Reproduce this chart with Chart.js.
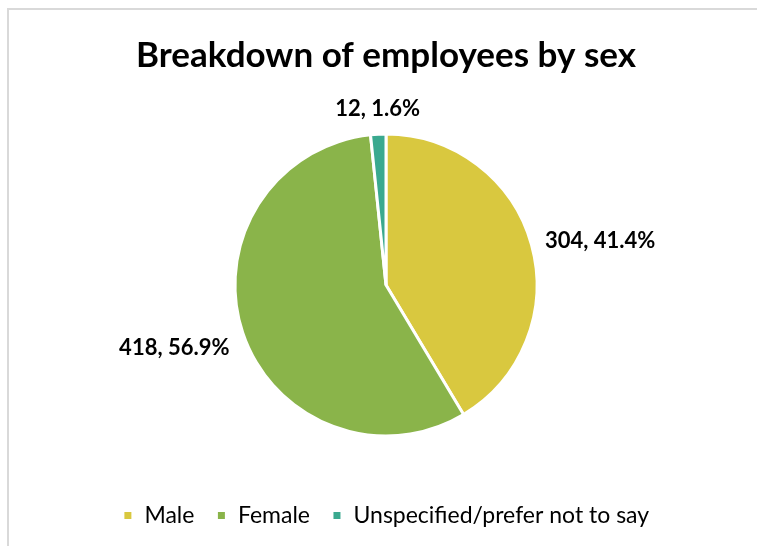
<!DOCTYPE html>
<html>
<head>
<meta charset="utf-8">
<script src="https://cdn.jsdelivr.net/npm/chart.js@4"></script>
<style>
  html, body { margin: 0; padding: 0; background: #fff; }
  #wrap { position: relative; width: 757px; height: 546px; overflow: hidden; }
  #frame {
    position: absolute; left: 7px; top: 8px; width: 800px; height: 600px;
    border-left: 2px solid #d9d9d9; border-top: 2px solid #d9d9d9;
  }
  canvas { position: absolute; left: 0; top: 0; }
</style>
</head>
<body>
<div id="wrap">
  <div id="frame"></div>
  <canvas id="sex-chart" width="757" height="546"></canvas>
</div>
<script>
// Employee counts by sex
const categories = ["Male", "Female", "Unspecified/prefer not to say"];
const employees = [304, 418, 12];
const sliceColors = ["#D9C83F", "#8AB44A", "#3AA98F"];

const totalEmployees = employees.reduce((a, b) => a + b, 0);

// Draws "count, pct%" next to each slice, outside the pie
const sliceLabels = {
  id: "sliceLabels",
  afterDatasetsDraw(chart) {
    const ctx = chart.ctx;
    const meta = chart.getDatasetMeta(0);
    ctx.save();
    ctx.font = "bold 22px Lato";
    ctx.fillStyle = "#000";
    meta.data.forEach((arc, i) => {
      const p = arc.getProps(["x", "y", "startAngle", "endAngle", "outerRadius"], true);
      const mid = (p.startAngle + p.endAngle) / 2;
      const r = p.outerRadius + 14;
      const cx = Math.cos(mid), cy = Math.sin(mid);
      const px = p.x + cx * r;
      const py = p.y + cy * r;
      if (cx > 0.3) ctx.textAlign = "left";
      else if (cx < -0.3) ctx.textAlign = "right";
      else ctx.textAlign = "center";
      ctx.textBaseline = cy < -0.7 ? "bottom" : (cy > 0.7 ? "top" : "middle");
      const value = employees[i];
      const pct = ((value / totalEmployees) * 100).toFixed(1);
      ctx.fillText(`${value}, ${pct}%`, px, py + (Math.abs(cy) < 0.7 ? cy * 20 + 5 : 0));
    });
    ctx.restore();
  },
};

const ctx = document.getElementById("sex-chart").getContext("2d");
new Chart(ctx, {
  type: "pie",
  data: {
    labels: categories,
    datasets: [
      {
        data: employees,
        backgroundColor: sliceColors,
        borderColor: "#ffffff",
        borderWidth: 3,
        hoverOffset: 0,
        radius: 151,
      },
    ],
  },
  options: {
    responsive: false,
    animation: false,
    layout: { padding: { left: 20, right: 5, top: 0, bottom: 9 } },
    plugins: {
      title: {
        display: true,
        text: "Breakdown of employees by sex",
        color: "#000",
        font: { family: "Lato", size: 35, weight: "bold" },
        padding: { top: 35, bottom: 11 },
      },
      legend: {
        position: "bottom",
        labels: {
          color: "#000",
          font: { family: "Lato", size: 23 },
          boxWidth: 10,
          boxHeight: 10,
          padding: 22,
        },
      },
      tooltip: { enabled: false },
    },
  },
  plugins: [sliceLabels],
});
</script>
</body>
</html>
